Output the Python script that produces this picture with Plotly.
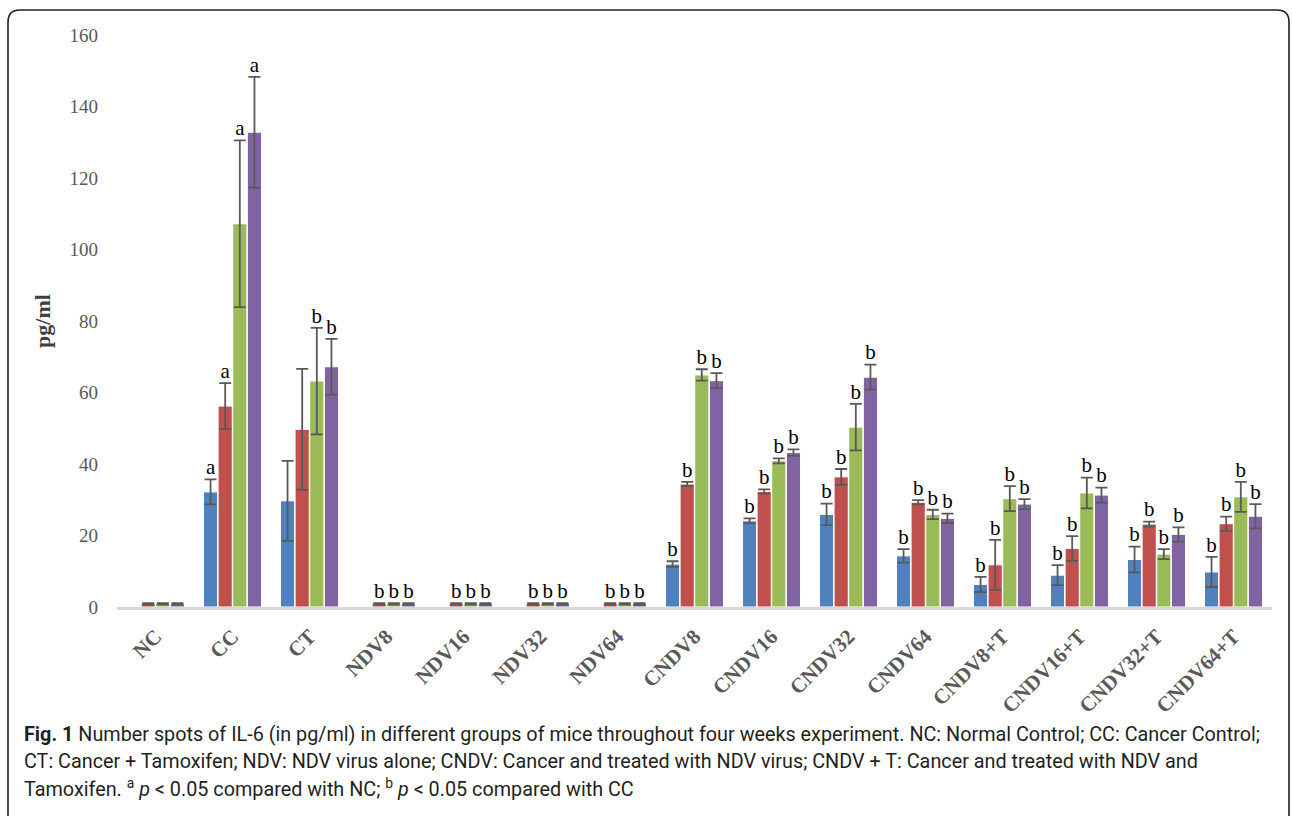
import plotly.graph_objects as go

# Groups on the x axis
groups = ["NC", "CC", "CT", "NDV8", "NDV16", "NDV32", "NDV64",
          "CNDV8", "CNDV16", "CNDV32", "CNDV64",
          "CNDV8+T", "CNDV16+T", "CNDV32+T", "CNDV64+T"]

# IL-6 (pg/ml) for each of the four weeks, with error values
week1 = [None, 32.2, 29.7, None, None, None, None, 12.0, 24.1, 25.9, 14.3, 6.3, 8.9, 13.3, 9.8]
week1_err = [0, 3.5, 11.2, 0, 0, 0, 0, 0.8, 0.7, 3.0, 1.9, 2.1, 2.8, 3.6, 4.2]
week2 = [0.9, 56.2, 49.7, 0.9, 0.9, 0.9, 0.9, 34.4, 32.3, 36.4, 29.3, 11.8, 16.4, 23.2, 23.3]
week2_err = [0.2, 6.4, 16.9, 0.2, 0.2, 0.2, 0.2, 0.6, 0.6, 2.2, 0.6, 7.0, 3.4, 0.7, 2.0]
week3 = [0.9, 107.2, 63.2, 0.9, 0.9, 0.9, 0.9, 64.9, 40.9, 50.3, 25.9, 30.3, 31.9, 14.8, 30.8]
week3_err = [0.2, 23.3, 14.9, 0.2, 0.2, 0.2, 0.2, 1.6, 0.7, 6.5, 1.3, 3.5, 4.3, 1.4, 4.2]
week4 = [0.9, 132.8, 67.2, 0.9, 0.9, 0.9, 0.9, 63.3, 43.2, 64.3, 24.8, 28.8, 31.3, 20.3, 25.4]
week4_err = [0.2, 15.5, 7.8, 0.2, 0.2, 0.2, 0.2, 2.1, 0.9, 3.5, 1.3, 1.4, 2.1, 2.0, 3.4]

# Significance letters above each bar
week1_sig = ["", "a", "", "", "", "", "", "b", "b", "b", "b", "b", "b", "b", "b"]
week2_sig = ["", "a", "", "b", "b", "b", "b", "b", "b", "b", "b", "b", "b", "b", "b"]
week3_sig = ["", "a", "b", "b", "b", "b", "b", "b", "b", "b", "b", "b", "b", "b", "b"]
week4_sig = ["", "a", "b", "b", "b", "b", "b", "b", "b", "b", "b", "b", "b", "b", "b"]

y_ticks = [0, 20, 40, 60, 80, 100, 120, 140, 160]

series = [
    ("Week 1", week1, week1_err, week1_sig, "#4F81BD"),
    ("Week 2", week2, week2_err, week2_sig, "#C0504D"),
    ("Week 3", week3, week3_err, week3_sig, "#9BBB59"),
    ("Week 4", week4, week4_err, week4_sig, "#8064A2"),
]

W, H = 1292, 816
L, R, T, B = 117, 20, 35, 209
PW, PH = W - L - R, H - T - B


def px(x):
    return (x - L) / PW


def py(y):
    return (H - B - y) / PH


fig = go.Figure()
for name, vals, errs, sig, color in series:
    fig.add_trace(go.Bar(
        x=groups, y=vals, name=name, offsetgroup=name,
        marker=dict(color=color, line=dict(color="white", width=1)),
        error_y=dict(type="data", array=errs, visible=True,
                     color="#595959", thickness=1.8, width=6),
        showlegend=False,
    ))

# letters sit just above the top of each error bar
for name, vals, errs, sig, color in series:
    xs, tops, letters = [], [], []
    for g, v, e, s in zip(groups, vals, errs, sig):
        if v is not None and s:
            xs.append(g)
            tops.append(v + e)
            letters.append(s)
    fig.add_trace(go.Scatter(
        x=xs, y=tops, mode="text", text=letters, offsetgroup=name,
        textposition="top center",
        textfont=dict(family="Liberation Serif", size=21, color="#000000"),
        showlegend=False, hoverinfo="skip",
    ))

serif = "Liberation Serif, Times New Roman, serif"
cap_font = "Roboto, sans-serif"

fig.update_layout(
    width=W, height=H,
    margin=dict(l=L, r=R, t=T, b=B),
    paper_bgcolor="white", plot_bgcolor="white",
    barmode="group", bargap=0.24, bargroupgap=0.03,
    scattermode="group", scattergap=0.24,
    xaxis=dict(
        categoryorder="array", categoryarray=groups,
        showline=True, linecolor="#D9D9D9", linewidth=3,
        showgrid=False, ticks="", tickangle=-45,
        tickfont=dict(family=serif, size=21, color="#595959", weight="bold"),
        ticklabelstandoff=6,
    ),
    yaxis=dict(
        range=[0, 160], tickvals=y_ticks, showgrid=False, zeroline=False,
        showline=False, ticks="",
        tickfont=dict(family=serif, size=19, color="#595959"),
        ticklabelstandoff=18,
        title=dict(text="<b>pg/ml</b>", standoff=12,
                   font=dict(family=serif, size=22, color="#404040")),
    ),
    font=dict(family=serif),
)

# rounded frame around the figure
x0, x1, y0, y1, r = 8, 1289, 10, 840, 12
rx, ry = r / PW, r / PH
path = (f"M {px(x0)},{py(y1)} L {px(x0)},{py(y0) - ry} "
        f"Q {px(x0)},{py(y0)} {px(x0) + rx},{py(y0)} "
        f"L {px(x1) - rx},{py(y0)} "
        f"Q {px(x1)},{py(y0)} {px(x1)},{py(y0) - ry} "
        f"L {px(x1)},{py(y1)}")
fig.add_shape(type="path", path=path, xref="paper", yref="paper",
              line=dict(color="#231F20", width=1.6))

caption = [
    "<b>Fig. 1</b> Number spots of IL-6 (in pg/ml) in different groups of mice throughout four weeks experiment. "
    "NC: Normal Control; CC: Cancer Control;",
    "CT: Cancer + Tamoxifen; NDV: NDV virus alone; CNDV: Cancer and treated with NDV virus; "
    "CNDV + T: Cancer and treated with NDV and",
    "Tamoxifen. <sup>a</sup> <i>p</i> &lt; 0.05 compared with NC; <sup>b</sup> <i>p</i> &lt; 0.05 compared with CC",
]
for i, line in enumerate(caption):
    fig.add_annotation(
        text=line, xref="paper", yref="paper",
        x=px(22), y=py(734 + 27 * i), xanchor="left", yanchor="middle",
        showarrow=False, align="left",
        font=dict(family=cap_font, size=19.8, color="#231F20"),
    )

fig.write_html("out.html")
